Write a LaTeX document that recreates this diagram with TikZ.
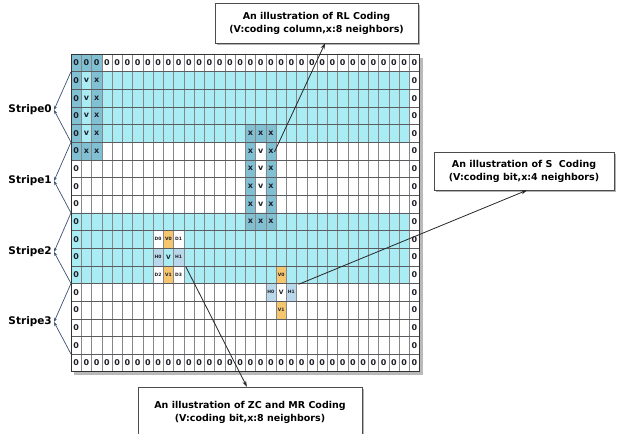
\documentclass[tikz,border=0pt]{standalone}
\usepackage{fontspec}
\setmainfont{DejaVu Sans}
\usepackage{tikz}
\usetikzlibrary{arrows.meta,positioning,shadows}
\definecolor{stripecyan}{RGB}{170,236,244}
\definecolor{nbteal}{RGB}{128,192,210}
\definecolor{bitorange}{RGB}{246,198,110}
\definecolor{hsteel}{RGB}{186,216,236}
\definecolor{vgrid}{RGB}{135,135,135}
\definecolor{hgrid}{RGB}{90,92,96}
\definecolor{arrowblue}{RGB}{60,82,115}
\definecolor{bittext}{RGB}{30,30,40}
\tikzset{
  infobox/.style={draw=gray!60!black, fill=white, align=center, inner sep=0pt,
    font=\bfseries\fontsize{9.5}{13}\selectfont,
    drop shadow={shadow xshift=2pt, shadow yshift=-2pt, opacity=.6, fill=gray}},
  cellbit/.style={font=\bfseries\fontsize{8}{8}\selectfont, text=bittext, inner sep=0pt},
  cellsmall/.style={font=\bfseries\fontsize{4.5}{5}\selectfont, text=bittext, inner sep=0pt},
  stripelbl/.style={font=\bfseries\fontsize{10.5}{12}\selectfont, anchor=east, inner sep=2pt},
  stripearr/.style={-{Stealth[length=4pt,width=3pt]}, arrowblue, line width=.7pt},
  callout/.style={-{Stealth[length=6pt,width=4pt]}, black!85, line width=.8pt}
}

\begin{document}
\begin{tikzpicture}[x=1pt,y=-1pt]
\useasboundingbox (0,0) rectangle (619,434);
%\draw[step=10,gray,very thin] (0,0) grid (619,434);
\begin{scope}[shift={(71,54)},x=10.25pt,y=-17.65pt]
% shadow, paper and stripes
\fill[gray!55] (0.3,0.2) rectangle (34.3,18.2);
\fill[white] (0,0) rectangle (34,18);
\fill[stripecyan] (0,1) rectangle (33,5) (0,9) rectangle (33,13);
% RL neighbours
\fill[nbteal] (0,0) rectangle (3,1) (0,1) rectangle (1,5) (2,1) rectangle (3,5) (0,5) rectangle (3,6);
\fill[nbteal] (17,4) rectangle (20,5) (17,5) rectangle (18,9) (19,5) rectangle (20,9) (17,9) rectangle (20,10);
% ZC and MR
\fill[white] (8,10) rectangle (9,11) (10,10) rectangle (11,11) (8,12) rectangle (9,13) (10,12) rectangle (11,13);
\fill[bitorange] (9,10) rectangle (10,11) (9,12) rectangle (10,13);
\fill[hsteel] (8,11) rectangle (9,12) (10,11) rectangle (11,12);
% S
\fill[bitorange] (20,12) rectangle (21,13) (20,14) rectangle (21,15);
\fill[hsteel] (19,13) rectangle (20,14) (21,13) rectangle (22,14);
% grid
\foreach \c in {1,...,33} \draw[vgrid, line width=.45pt] (\c,0) -- (\c,18);
\foreach \r in {1,...,17} \draw[hgrid, line width=.5pt] (0,\r) -- (34,\r);
\draw[black!80, line width=.9pt] (0,0) rectangle (34,18);
% border bits
\foreach \c in {0,...,33} {
  \node[cellbit] (top\c) at (\c+.5,.5) {0};
  \node[cellbit] (bot\c) at (\c+.5,17.5) {0};
}
\foreach \r in {1,...,16} {
  \node[cellbit] (lft\r) at (.5,\r+.5) {0};
  \node[cellbit] (rgt\r) at (33.5,\r+.5) {0};
}
% RL coding column at the edge
\foreach \r in {1,...,4} {
  \node[cellbit] (ev\r) at (1.5,\r+.5) {v};
  \node[cellbit] (ex\r) at (2.5,\r+.5) {x};
}
\node[cellbit] (ea5) at (1.5,5.5) {x};
\node[cellbit] (eb5) at (2.5,5.5) {x};
% RL coding column in the middle
\foreach \c in {17,18,19} {
  \node[cellbit] (ma\c) at (\c+.5,4.5) {x};
  \node[cellbit] (mb\c) at (\c+.5,9.5) {x};
}
\foreach \r in {5,...,8} {
  \node[cellbit] (ml\r) at (17.5,\r+.5) {x};
  \node[cellbit] (mv\r) at (18.5,\r+.5) {v};
  \node[cellbit] (mr\r) at (19.5,\r+.5) {x};
}
% ZC and MR neighbours
\node[cellsmall] (zD0) at (8.5,10.5) {D0};
\node[cellsmall] (zV0) at (9.5,10.5) {V0};
\node[cellsmall] (zD1) at (10.5,10.5) {D1};
\node[cellsmall] (zH0) at (8.5,11.5) {H0};
\node[cellsmall, font=\bfseries\fontsize{6}{6}\selectfont] (zV) at (9.5,11.5) {V};
\node[cellsmall] (zH1) at (10.5,11.5) {H1};
\node[cellsmall] (zD2) at (8.5,12.5) {D2};
\node[cellsmall] (zV1) at (9.5,12.5) {V1};
\node[cellsmall] (zD3) at (10.5,12.5) {D3};
% S neighbours
\node[cellsmall] (sV0) at (20.5,12.5) {V0};
\node[cellsmall] (sH0) at (19.5,13.5) {H0};
\node[cellsmall, font=\bfseries\fontsize{6}{6}\selectfont] (sV) at (20.5,13.5) {V};
\node[cellsmall] (sH1) at (21.5,13.5) {H1};
\node[cellsmall] (sV1) at (20.5,14.5) {V1};
% where connectors leave the grid
\coordinate (rlfrom) at (19.85,5.55);
\coordinate (sfrom) at (22.2,13.05);
\coordinate (zcfrom) at (11.2,12.05);
\foreach \r in {1,5,9,13,17} \coordinate (edge\r) at (0,\r);
\end{scope}

% stripes
\node[stripelbl] (stripe0) at (54,110) {Stripe0};
\node[stripelbl] (stripe1) at (54,181) {Stripe1};
\node[stripelbl] (stripe2) at (54,252) {Stripe2};
\node[stripelbl] (stripe3) at (54,322) {Stripe3};
\draw[stripearr] (edge1) -- (stripe0.east);
\draw[stripearr] (edge5) -- (stripe0.east);
\draw[stripearr] (edge5) -- (stripe1.east);
\draw[stripearr] (edge9) -- (stripe1.east);
\draw[stripearr] (edge9) -- (stripe2.east);
\draw[stripearr] (edge13) -- (stripe2.east);
\draw[stripearr] (edge13) -- (stripe3.east);
\draw[stripearr] (edge17) -- (stripe3.east);

% call-outs
\node[infobox, minimum width=203, minimum height=40] (rlbox) at (316.5,23)
  {An illustration of RL Coding\\(V:coding column,x:8 neighbors)};
\node[infobox, minimum width=180, minimum height=38] (sbox) at (524,171)
  {An illustration of S\ \ Coding\\(V:coding bit,x:4 neighbors)};
\node[infobox, minimum width=224, minimum height=50] (zcbox) at (250,412)
  {An illustration of ZC and MR Coding\\(V:coding bit,x:8 neighbors)};
\draw[callout] (rlfrom) -- (rlbox.-67);
\draw[callout] (sfrom) -- (sbox.-81);
\draw[callout] (zcfrom) -- (zcbox.97);
\end{tikzpicture}
\end{document}
